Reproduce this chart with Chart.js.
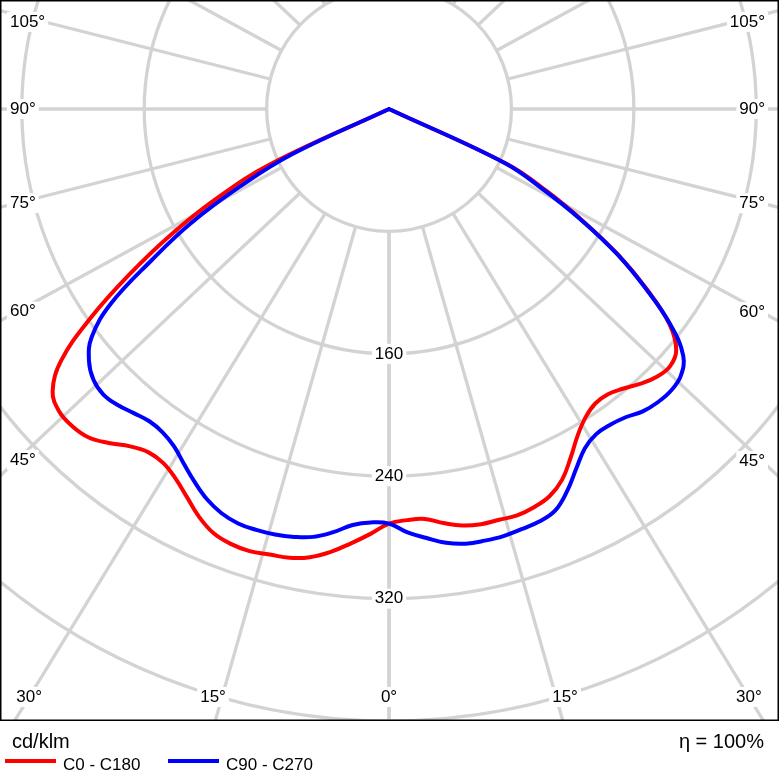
<!DOCTYPE html>
<html lang="de">
<head>
<meta charset="UTF-8">
<title>Lichtstärkeverteilung</title>
<script src="https://cdn.jsdelivr.net/npm/chart.js@4"></script>
<style>
  html, body { margin: 0; padding: 0; background: #fff; }
  #wrap { width: 779px; height: 780px; }
</style>
</head>
<body>
<div id="wrap"><canvas id="ldk" width="779" height="780"></canvas></div>
<script>
// Ausstrahlungswinkel gamma, 0° = senkrecht nach unten
const gamma = [0, 2.5, 5, 7.5, 10, 12.5, 15, 17.5, 20, 22.5, 25, 27.5, 30, 32.5, 35, 37.5, 40, 42.5,
               45, 47.5, 50, 52.5, 55, 57.5, 60, 62.5, 65, 67.5, 70, 75, 80, 85, 90];
// Lichtstärke in cd/klm je C-Ebene
const c0   = [271, 269, 269, 273, 276.5, 278, 278, 278.5, 277, 274, 267.5, 257, 246.5, 239, 235, 235, 238.5, 243.5,
              247.5, 249, 245, 231, 206, 178, 146, 116, 85, 0, 0, 0, 0, 0, 0];
const c180 = [271, 278, 285, 292, 297.5, 300.5, 301.5, 303, 302.5, 300, 294, 286, 279, 274.5, 274, 278, 285, 291,
              293, 292.5, 287, 270, 238, 201, 165, 128, 86, 0, 0, 0, 0, 0, 0];
const c90  = [271, 277, 281.5, 286, 288.5, 289, 289, 288, 287, 284, 275.5, 265, 256, 252, 252, 254, 258, 260,
              260.5, 258.5, 251, 232, 205, 177, 145, 113, 83, 0, 0, 0, 0, 0, 0];
const c270 = [271, 270.5, 273, 279, 284, 286.5, 288, 288.5, 288.3, 286, 281.5, 275, 268, 261.5, 258, 257.3, 259.5, 262.5,
              264, 262, 256, 245, 222, 184, 150, 110, 70, 0, 0, 0, 0, 0, 0];

const rings = [80, 160, 240, 320, 400];
const ringLabels = [160, 240, 320];
const angleTicks = [0, 15, 30, 45, 60, 75, 90, 105, 120, 135, 150, 165, 180];

const gridColor = '#d3d3d3';
const font = "'Liberation Sans', Arial, sans-serif";
const spokeStretch = 1.06; // Strahlen im Original leicht in die Breite gezogen

function toXY(g, v, side) {
    const t = g * Math.PI / 180;
    return { x: side * v * Math.sin(t), y: -v * Math.cos(t) };
}

// linke Hälfte (C180 / C270) von 90° nach 0°, dann rechte Hälfte (C0 / C90)
function planePoints(left, right) {
    const pts = [];
    for (let i = gamma.length - 1; i >= 0; i--) pts.push(toXY(gamma[i], left[i], -1));
    for (let i = 1; i < gamma.length; i++) pts.push(toXY(gamma[i], right[i], 1));
    return pts;
}

function spokeDir(a, side) {
    const t = a * Math.PI / 180;
    const dx = side * spokeStretch * Math.sin(t), dy = Math.cos(t);
    const n = Math.hypot(dx, dy);
    return { dx: dx / n, dy: dy / n };
}

function labelBox(ctx, text, x, y, align) {
    const w = ctx.measureText(text).width;
    let x0 = x - w / 2;
    if (align === 'left') x0 = x;
    if (align === 'right') x0 = x - w;
    ctx.fillStyle = '#fff';
    ctx.fillRect(x0 - 3, y - 10, w + 6, 20);
    ctx.fillStyle = '#000';
    ctx.textAlign = align;
    ctx.fillText(text, x, y);
}

const polarGrid = {
    id: 'polarGrid',
    beforeDatasetsDraw(chart) {
        const { ctx, chartArea: area, scales: { x, y } } = chart;
        const cx = x.getPixelForValue(0), cy = y.getPixelForValue(0);
        const unit = x.getPixelForValue(1) - cx;
        ctx.save();
        ctx.beginPath();
        ctx.rect(area.left, area.top, area.width, area.height);
        ctx.clip();
        ctx.strokeStyle = gridColor;
        ctx.lineWidth = 3.3;
        rings.forEach(r => {
            ctx.beginPath();
            ctx.arc(cx, cy, r * unit, 0, Math.PI * 2);
            ctx.stroke();
        });
        const r0 = rings[0] * unit;
        angleTicks.forEach(a => {
            [-1, 1].forEach(side => {
                const d = spokeDir(a, side);
                ctx.beginPath();
                ctx.moveTo(cx + d.dx * r0, cy + d.dy * r0);
                ctx.lineTo(cx + d.dx * 2000, cy + d.dy * 2000);
                ctx.stroke();
            });
        });

        ctx.font = '17px ' + font;
        ctx.textBaseline = 'middle';
        ringLabels.forEach(r => labelBox(ctx, String(r), cx, cy + r * unit, 'center'));

        // Winkelbeschriftung dort, wo der Strahl den Rahmen verlässt
        const sideInset = 16, bottomY = area.bottom - 23;
        angleTicks.forEach(a => {
            const sides = (a === 0 || a === 180) ? [1] : [-1, 1];
            sides.forEach(side => {
                const d = spokeDir(a, side);
                const tSide = Math.abs(d.dx) > 1e-6 ? (side < 0 ? cx - area.left : area.right - cx) / Math.abs(d.dx) : Infinity;
                const tBottom = d.dy > 1e-6 ? (area.bottom - cy) / d.dy : Infinity;
                const tTop = d.dy < -1e-6 ? (cy - area.top) / -d.dy : Infinity;
                const text = a + '°';
                if (tBottom <= tSide && tBottom <= tTop) {
                    let lx = cx + d.dx / d.dy * (bottomY - cy);
                    if (a === 15) lx += side * 9;
                    labelBox(ctx, text, lx, bottomY, 'center');
                } else if (tSide < tTop) {
                    const lx = side < 0 ? area.left + sideInset : area.right - sideInset;
                    let ly = cy + d.dy / Math.abs(d.dx) * Math.abs(lx - cx);
                    ly = Math.max(ly, area.top + 21);
                    if (side < 0) labelBox(ctx, text, area.left + 9, ly, 'left');
                    else labelBox(ctx, text, area.right - 13, ly, 'right');
                }
            });
        });
        ctx.restore();
    },
    afterDraw(chart) {
        const { ctx, chartArea: area } = chart;
        ctx.save();
        ctx.strokeStyle = '#000';
        ctx.lineWidth = 1.5;
        ctx.strokeRect(area.left - 0.25, area.top - 0.25, area.width + 0.5, area.height + 0.5);

        ctx.fillStyle = '#000';
        ctx.textBaseline = 'alphabetic';
        ctx.font = '20px ' + font;
        ctx.textAlign = 'left';
        ctx.fillText('cd/klm', 12, 748);
        ctx.textAlign = 'right';
        ctx.fillText('η = 100%', 764, 748);

        ctx.font = '17px ' + font;
        ctx.textAlign = 'left';
        let lx = 5;
        chart.data.datasets.forEach(ds => {
            ctx.strokeStyle = ds.borderColor;
            ctx.lineWidth = 4;
            ctx.beginPath();
            ctx.moveTo(lx, 761);
            ctx.lineTo(lx + 51, 761);
            ctx.stroke();
            ctx.fillStyle = '#000';
            ctx.fillText(ds.label, lx + 58, 770);
            lx = 168;
        });
        ctx.restore();
    }
};

new Chart(document.getElementById('ldk'), {
    type: 'scatter',
    data: {
        datasets: [
            {
                label: 'C0 - C180',
                data: planePoints(c180, c0),
                borderColor: '#ff0000',
                order: 2
            },
            {
                label: 'C90 - C270',
                data: planePoints(c270, c90),
                borderColor: '#0000ff',
                order: 1
            }
        ]
    },
    options: {
        responsive: false,
        animation: false,
        datasets: {
            scatter: {
                showLine: true,
                borderWidth: 4,
                pointRadius: 0,
                tension: 0.4,
                fill: false,
                borderJoinStyle: 'round',
                borderCapStyle: 'round'
            }
        },
        layout: { padding: { left: 1, right: 1, top: 1, bottom: 60 } },
        scales: {
            x: { type: 'linear', min: -253.6, max: 254.2, display: false },
            y: { type: 'linear', min: -399.4, max: 70.6, display: false }
        },
        plugins: {
            legend: { display: false },
            tooltip: { enabled: false }
        }
    },
    plugins: [polarGrid]
});
</script>
</body>
</html>
